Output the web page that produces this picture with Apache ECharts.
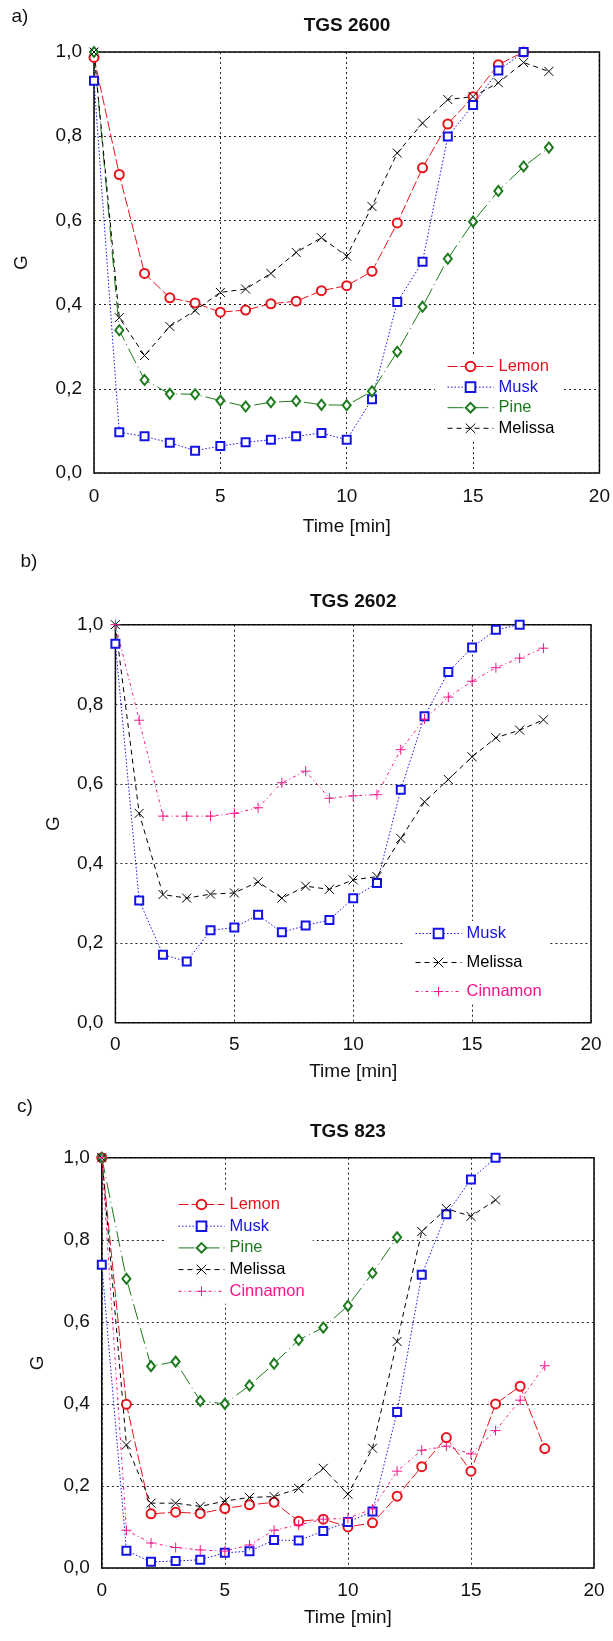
<!DOCTYPE html>
<html>
<head>
<meta charset="utf-8">
<script src="https://cdn.jsdelivr.net/npm/echarts@6/dist/echarts.min.js"></script>
<style>
  html, body { margin: 0; padding: 0; background: #fff; }
  #chart { width: 613px; height: 1641px; }
</style>
</head>
<body>
<div id="chart"></div>
<script>
// ---- data ----
const times = [0, 1, 2, 3, 4, 5, 6, 7, 8, 9, 10, 11, 12, 13, 14, 15, 16, 17, 18];
const xTicks = [0, 5, 10, 15, 20];
const yTicks = [0, 0.2, 0.4, 0.6, 0.8, 1.0];

// a) TGS 2600
const lemonA   = [0.987, 0.709, 0.474, 0.416, 0.404, 0.382, 0.387, 0.402, 0.408, 0.433, 0.445, 0.479, 0.594, 0.725, 0.829, 0.894, 0.970, 1.0];
const muskA    = [0.932, 0.097, 0.087, 0.072, 0.053, 0.064, 0.073, 0.079, 0.087, 0.095, 0.079, 0.175, 0.406, 0.502, 0.799, 0.874, 0.956, 1.0];
const pineA    = [1.0, 0.339, 0.221, 0.188, 0.187, 0.172, 0.158, 0.168, 0.171, 0.162, 0.161, 0.194, 0.288, 0.395, 0.509, 0.597, 0.670, 0.728, 0.773];
const melissaA = [1.0, 0.369, 0.279, 0.348, 0.386, 0.429, 0.437, 0.474, 0.524, 0.559, 0.515, 0.633, 0.760, 0.831, 0.887, 0.894, 0.927, 0.975, 0.954];

// b) TGS 2602
const muskB     = [0.952, 0.307, 0.171, 0.154, 0.232, 0.239, 0.271, 0.227, 0.244, 0.258, 0.313, 0.351, 0.585, 0.770, 0.881, 0.943, 0.987, 1.0];
const melissaB  = [1.0, 0.526, 0.322, 0.313, 0.323, 0.326, 0.354, 0.313, 0.343, 0.335, 0.359, 0.367, 0.463, 0.555, 0.611, 0.668, 0.716, 0.735, 0.761];
const cinnamonB = [1.0, 0.760, 0.519, 0.519, 0.519, 0.526, 0.540, 0.603, 0.632, 0.564, 0.570, 0.573, 0.686, 0.763, 0.818, 0.858, 0.892, 0.916, 0.941];

// c) TGS 823
const lemonC    = [1.0, 0.399, 0.132, 0.136, 0.133, 0.145, 0.154, 0.160, 0.114, 0.119, 0.100, 0.110, 0.175, 0.247, 0.318, 0.236, 0.400, 0.443, 0.291];
const muskC     = [0.739, 0.042, 0.015, 0.017, 0.020, 0.037, 0.041, 0.068, 0.067, 0.090, 0.112, 0.138, 0.380, 0.715, 0.862, 0.947, 1.0];
const pineC     = [1.0, 0.705, 0.492, 0.503, 0.407, 0.400, 0.445, 0.498, 0.556, 0.586, 0.639, 0.719, 0.806];
const melissaC  = [1.0, 0.300, 0.158, 0.158, 0.150, 0.163, 0.172, 0.174, 0.194, 0.243, 0.180, 0.292, 0.552, 0.820, 0.876, 0.857, 0.897];
const cinnamonC = [1.0, 0.092, 0.061, 0.050, 0.044, 0.041, 0.056, 0.092, 0.105, 0.119, 0.121, 0.144, 0.236, 0.287, 0.297, 0.278, 0.335, 0.409, 0.493];

const panelTitles = ['TGS 2600', 'TGS 2602', 'TGS 823'];
const panelLabels = ['a)', 'b)', 'c)'];

// ---- styles ----
const FONT = 'Liberation Sans, Arial, sans-serif';
const STY = {
  Lemon:    { color: '#e8141c', symbol: 'emptyCircle', size: 9, dash: [10, 3] },
  Musk:     { color: '#1414e6', symbol: 'emptyRect', size: 8, dash: [1.5, 2] },
  Pine:     { color: '#1b7a1b', symbol: 'emptyDiamond', size: [8, 10], dash: [16, 4, 1, 4] },
  Melissa:  { color: '#000000', symbol: 'path://M0,0L10,10M0,10L10,0', size: 9, dash: [5, 4] },
  Cinnamon: { color: '#f5168a', symbol: 'path://M5,0L5,10M0,5L10,5', size: 10, dash: [3, 3, 1, 3] }
};

function pairs(arr) { return arr.map((v, i) => [times[i], v]); }

function makeSeries(name, arr, idx) {
  const s = STY[name];
  return {
    type: 'line', name: name,
    xAxisIndex: idx, yAxisIndex: idx,
    data: pairs(arr),
    symbol: s.symbol, symbolSize: s.size,
    showAllSymbol: true,
    clip: false,
    lineStyle: { color: s.color, width: 1, type: s.dash },
    itemStyle: { color: s.color, borderColor: s.color, borderWidth: 1 },
    emphasis: { disabled: true },
    animation: false
  };
}

const grids = [
  { left: 94,    top: 52,     width: 506,   height: 421 },
  { left: 115.4, top: 624.7,  width: 475.6, height: 398 },
  { left: 101.8, top: 1157.7, width: 492.2, height: 410.3 }
];
const xLabelMargin = [14, 13, 13];
const xNameGap = [44, 40, 40];
const yNameGap = [63, 52, 55];

const fmt = v => v.toFixed(1).replace('.', ',');

const option = {
  backgroundColor: '#fff',
  animation: false,
  textStyle: { fontFamily: FONT },
  grid: grids.map(g => Object.assign({ show: true, borderColor: '#000', borderWidth: 1.5, backgroundColor: 'transparent' }, g)),
  xAxis: grids.map((g, i) => ({
    type: 'value', gridIndex: i, min: xTicks[0], max: xTicks[xTicks.length - 1], interval: xTicks[1] - xTicks[0],
    name: 'Time [min]', nameLocation: 'middle', nameGap: xNameGap[i],
    nameTextStyle: { fontSize: 19, color: '#111', fontFamily: FONT },
    axisLine: { show: false }, axisTick: { show: false },
    axisLabel: { fontSize: 19, color: '#111', margin: xLabelMargin[i], fontFamily: FONT },
    splitLine: { show: true, lineStyle: { color: '#222', width: 1, type: [2, 3] } }
  })),
  yAxis: grids.map((g, i) => ({
    type: 'value', gridIndex: i, min: yTicks[0], max: yTicks[yTicks.length - 1], interval: 0.2,
    name: 'G', nameLocation: 'middle', nameGap: yNameGap[i], nameRotate: 90,
    nameTextStyle: { fontSize: 19, color: '#111', fontFamily: FONT },
    axisLine: { show: false }, axisTick: { show: false },
    axisLabel: { fontSize: 19, color: '#111', margin: 12, formatter: fmt, fontFamily: FONT },
    splitLine: { show: true, lineStyle: { color: '#222', width: 1, type: [2, 3] } }
  })),
  legend: [
    { names: ['Lemon', 'Musk', 'Pine', 'Melissa'], left: 435, top: 354, gap: 3.6 },
    { names: ['Musk', 'Melissa', 'Cinnamon'], left: 403, top: 921, gap: 12 },
    { names: ['Lemon', 'Musk', 'Pine', 'Melissa', 'Cinnamon'], left: 166, top: 1192, gap: 4.7 }
  ].map(l => ({
    orient: 'vertical', left: l.left, top: l.top, itemGap: l.gap,
    itemWidth: 46, itemHeight: 12, align: 'left',
    backgroundColor: '#fff', padding: [4, 8, 4, 12],
    selectedMode: false,
    lineStyle: { width: 1 },
    itemStyle: { borderWidth: 1 },
    textStyle: { fontSize: 16.5, lineHeight: 16, fontFamily: FONT },
    data: l.names.map(n => ({ name: n, textStyle: { color: STY[n].color } }))
  })),
  graphic: panelTitles.map((t, i) => ({
    type: 'text', x: grids[i].left + grids[i].width / 2, y: [25.3, 601.7, 1131.7][i],
    style: { text: t, fontSize: 19, fontWeight: 'bold', fontFamily: FONT, fill: '#111', align: 'center', verticalAlign: 'middle' }
  })).concat(panelLabels.map((t, i) => ({
    type: 'text', x: [20, 29, 25][i], y: [16.7, 561.7, 1106.7][i],
    style: { text: t, fontSize: 19, fontFamily: FONT, fill: '#111', align: 'center', verticalAlign: 'middle' }
  }))),
  series: [
    makeSeries('Lemon', lemonA, 0),
    makeSeries('Musk', muskA, 0),
    makeSeries('Pine', pineA, 0),
    makeSeries('Melissa', melissaA, 0),
    makeSeries('Musk', muskB, 1),
    makeSeries('Melissa', melissaB, 1),
    makeSeries('Cinnamon', cinnamonB, 1),
    makeSeries('Lemon', lemonC, 2),
    makeSeries('Musk', muskC, 2),
    makeSeries('Pine', pineC, 2),
    makeSeries('Melissa', melissaC, 2),
    makeSeries('Cinnamon', cinnamonC, 2)
  ]
};

const chart = echarts.init(document.getElementById('chart'), null, { renderer: 'canvas', width: 613, height: 1641 });
chart.setOption(option);
</script>
</body>
</html>
